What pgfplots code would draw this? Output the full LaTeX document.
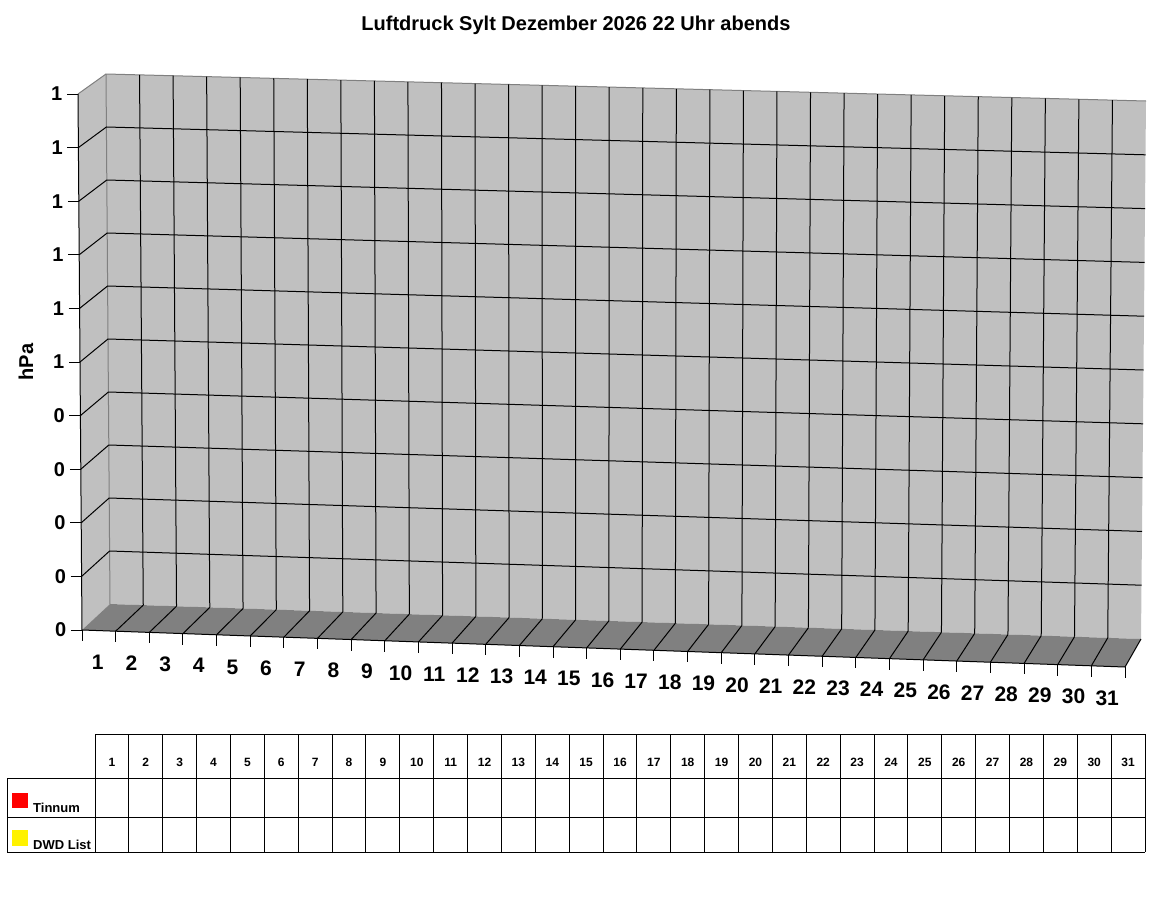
\documentclass[border=0pt]{standalone}
\usepackage{pgfplots}
\pgfplotsset{compat=1.18}
\usepackage{fontspec}
\setmainfont{Liberation Sans}
\definecolor{wallc}{RGB}{192,192,192}
\definecolor{floorc}{RGB}{128,128,128}
\newcommand\fs[1]{\fontsize{#1}{#1}\selectfont\bfseries}
\begin{document}
\begin{tikzpicture}
\begin{axis}[
  at={(0,0)}, anchor=south west,
  x=1pt, y=1pt,
  xmin=0, xmax=1152, ymin=0, ymax=900,
  y dir=reverse,
  hide axis, clip=false,
  gl/.style={black, line width=1pt, no marks},
  ed/.style={floorc, line width=1pt, no marks},
  tb/.style={black, line width=1pt, no marks},
]
% ---- 3D frame: walls and floor
\addplot[fill=wallc, draw=none, no marks] coordinates {(110,604) (1141,639) (1146,101) (106,74)};
\addplot[fill=wallc, draw=none, no marks] coordinates {(82,630) (110,604) (106,74) (78,94)};
\addplot[fill=floorc, draw=none, no marks] coordinates {(82,630) (1125,667) (1141,639) (110,604)};
\addplot[ed] coordinates {(78,94) (106,74) (1146,101)};
\addplot[ed] coordinates {(106,74) (110,604)};
% back wall verticals
\pgfplotsforeachungrouped \dd in {1,...,30}{%
  \pgfmathsetmacro\ax{110+1031/31*\dd}%
  \pgfmathsetmacro\ay{604+35/31*\dd}%
  \pgfmathsetmacro\bx{106+1040/31*\dd}%
  \pgfmathsetmacro\by{74+27/31*\dd}%
  \edef\temp{\noexpand\addplot[gl] coordinates {(\ax,\ay) (\bx,\by)};}\temp
}
% floor lines
\pgfplotsforeachungrouped \dd in {1,...,31}{%
  \pgfmathsetmacro\ax{82+1043/31*\dd}%
  \pgfmathsetmacro\ay{630+37/31*\dd}%
  \pgfmathsetmacro\bx{110+1031/31*\dd}%
  \pgfmathsetmacro\by{604+35/31*\dd}%
  \edef\temp{\noexpand\addplot[gl] coordinates {(\ax,\ay) (\bx,\by)};}\temp
}
% back wall horizontals and left wall lines
\pgfplotsforeachungrouped \zz in {1,...,9}{%
  \pgfmathsetmacro\ax{110-0.4*\zz}%
  \pgfmathsetmacro\ay{604-53*\zz}%
  \pgfmathsetmacro\bx{1141+0.5*\zz}%
  \pgfmathsetmacro\by{639-53.8*\zz}%
  \pgfmathsetmacro\cx{82-0.4*\zz}%
  \pgfmathsetmacro\cy{630-53.6*\zz}%
  \edef\temp{\noexpand\addplot[gl] coordinates {(\cx,\cy) (\ax,\ay) (\bx,\by)};}\temp
}
% axis lines
\addplot[gl] coordinates {(78,94) (82,630) (1125,667)};
% x ticks and labels
\pgfplotsforeachungrouped \dd in {0,...,31}{%
  \pgfmathsetmacro\ax{82+1043/31*\dd}%
  \pgfmathsetmacro\ay{630+37/31*\dd}%
  \pgfmathsetmacro\by{\ay+11}%
  \edef\temp{\noexpand\addplot[gl] coordinates {(\ax,\ay) (\ax,\by)};}\temp
}
\pgfplotsforeachungrouped \dd in {1,...,31}{%
  \pgfmathsetmacro\ax{82+1043/31*(\dd-0.5)-1}%
  \pgfmathsetmacro\ay{630+37/31*(\dd-0.5)+31.5}%
  \edef\temp{\noexpand\node[font=\noexpand\fs{21}, inner sep=0pt, anchor=center] at (\ax,\ay) {\dd};}\temp
}
% y ticks and labels
\pgfplotsforeachungrouped \zz in {0,...,10}{%
  \pgfmathsetmacro\cx{82-0.4*\zz}%
  \pgfmathsetmacro\cy{630-53.6*\zz}%
  \pgfmathsetmacro\dx{\cx-11}%
  \pgfmathsetmacro\lx{\cx-15.5}%
  \pgfmathtruncatemacro\lab{\zz>4 ? 1 : 0}%
  \edef\temp{\noexpand\addplot[gl] coordinates {(\dx,\cy) (\cx,\cy)};
    \noexpand\node[font=\noexpand\fs{20}, inner sep=0pt, anchor=east] at (\lx,\cy) {\lab};}\temp
}
% titles
\node[font=\fs{20}, inner sep=0pt, anchor=base] at (576,30) {Luftdruck Sylt Dezember 2026 22 Uhr abends};
\node[font=\fs{20}, inner sep=0pt, rotate=90, anchor=center] at (26,362) {hPa};
% ---- data table
\addplot[tb] coordinates {(95,734) (1145,734)};
\addplot[tb] coordinates {(7,778) (1145,778)};
\addplot[tb] coordinates {(7,817) (1145,817)};
\addplot[tb] coordinates {(7,852) (1145,852)};
\addplot[tb] coordinates {(7,778) (7,852)};
\pgfplotsforeachungrouped \dd in {0,...,31}{%
  \pgfmathsetmacro\ax{95+1050/31*\dd}%
  \edef\temp{\noexpand\addplot[tb] coordinates {(\ax,734) (\ax,852)};}\temp
}
\pgfplotsforeachungrouped \dd in {1,...,31}{%
  \pgfmathsetmacro\ax{95+1050/31*(\dd-0.5)}%
  \edef\temp{\noexpand\node[font=\noexpand\fs{12}, inner sep=0pt, anchor=center] at (\ax,762) {\dd};}\temp
}
\addplot[fill=red, draw=none, no marks] coordinates {(12,793) (28,793) (28,808) (12,808)};
\addplot[fill=yellow, draw=none, no marks] coordinates {(12,830) (28,830) (28,846) (12,846)};
\node[font=\fs{13}, inner sep=0pt, anchor=base west] at (33,812) {Tinnum};
\node[font=\fs{13}, inner sep=0pt, anchor=base west] at (33,849) {DWD List};
\end{axis}
\pgfresetboundingbox
\path (0,0) rectangle (1152pt,900pt);
\end{tikzpicture}
\end{document}
